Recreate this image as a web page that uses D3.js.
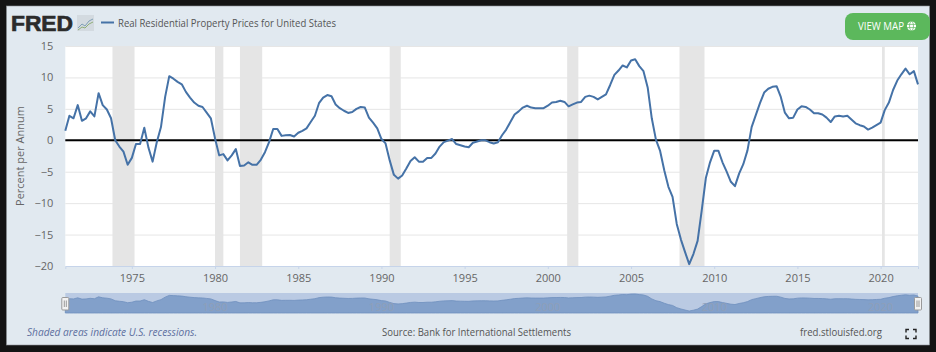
<!DOCTYPE html>
<html>
<head>
<meta charset="utf-8">
<script src="https://cdn.jsdelivr.net/npm/d3@7"></script>
<style>
  html, body { margin: 0; padding: 0; background: #141414; }
  svg { display: block; }
  text { font-family: "Open Sans", sans-serif; }
</style>
</head>
<body>
<div id="chart"></div>
<script>
const seriesName = "Real Residential Property Prices for United States";
const firstYear = 1971;

// percent per annum, one value per quarter from 1971 Q1
const values = [
  1.5, 3.9, 3.5, 5.6,  3.1, 3.5, 4.6, 3.8,  7.5, 5.6, 4.9, 3.5,  0.0, -1.0, -1.8, -3.9,
  -2.8, -0.6, -0.6, 2.0,  -1.2, -3.4, -0.3, 2.1,  6.9, 10.2, 9.8, 9.3,  8.9, 7.7, 6.8, 6.0,
  5.5, 5.3, 4.4, 3.5,  0.3, -2.4, -2.2, -3.2,  -2.4, -1.4, -4.1, -4.0,  -3.5, -3.9, -3.9, -3.1,
  -1.9, -0.3, 1.8, 1.8,  0.7, 0.8, 0.85, 0.6,  1.2, 1.5, 1.9, 2.9,  3.9, 5.9, 6.8, 7.2,
  7.0, 5.7, 5.1, 4.7,  4.35, 4.5, 5.0, 5.3,  5.2, 3.6, 2.8, 1.9,  0.2, -0.5, -3.2, -5.5,
  -6.1, -5.6, -4.5, -3.3,  -2.7, -3.4, -3.4, -2.8,  -2.8, -2.1, -1.0, -0.3,  -0.05, 0.2, -0.6, -0.8,
  -1.0, -1.1, -0.4, -0.2,  0.0, 0.0, -0.3, -0.5,  -0.3, 0.8, 1.7, 2.9,  4.1, 4.6, 5.2, 5.5,
  5.2, 5.1, 5.1, 5.1,  5.5, 6.0, 6.1, 6.3,  6.1, 5.4, 5.7, 6.0,  6.1, 6.9, 7.1, 6.9,
  6.5, 6.9, 7.3, 8.8,  10.4, 11.1, 11.9, 11.6,  12.7, 12.9, 11.8, 11.0,  8.4, 3.5, 0.1, -1.7,
  -4.8, -7.4, -9.0, -13.3,  -15.8, -17.8, -19.7, -18.1,  -16.0, -11.2, -6.0, -3.5,  -1.65, -1.65, -3.5, -5.0,
  -6.6, -7.3, -5.3, -3.8,  -1.6, 2.1, 4.0, 5.9,  7.6, 8.2, 8.5, 8.6,  6.9, 4.4, 3.5, 3.6,
  4.9, 5.4, 5.3, 4.9,  4.3, 4.3, 4.1, 3.6,  2.9, 3.8, 3.9, 3.8,  3.9, 3.3, 2.7, 2.4,
  2.2, 1.7, 2.0, 2.4,  2.8, 4.8, 6.0, 8.0,  9.5, 10.5, 11.4, 10.5,  11.0, 8.9
];

// [start year, start month, end year, end month], month is 0 based
const recessions = [
  [1973, 10, 1975, 2], [1980, 0, 1980, 6], [1981, 6, 1982, 10], [1990, 6, 1991, 2],
  [2001, 2, 2001, 10], [2007, 11, 2009, 5], [2020, 1, 2020, 3]
];

const yTicks = [15, 10, 5, 0, -5, -10, -15, -20];
const xTickYears = [1975, 1980, 1985, 1990, 1995, 2000, 2005, 2010, 2015, 2020];
const navLabelYears = [1980, 1990, 2000, 2010, 2020];

const width = 936, height = 352;
const plot = { left: 65.3, right: 918, top: 46, bottom: 266 };
const nav = { top: 293, bottom: 313 };

const points = values.map((v, i) => ({
  date: new Date(Date.UTC(firstYear, i * 3, 1)),
  value: v
}));

const x = d3.scaleUtc()
  .domain(d3.extent(points, d => d.date))
  .range([plot.left, plot.right]);

const y = d3.scaleLinear().domain([-20, 15]).range([plot.bottom, plot.top]);
// the navigator keeps some room under the lowest point
const yNav = d3.scaleLinear().domain([-23.5, 14.8]).range([nav.bottom, nav.top]);

const svg = d3.select("#chart").append("svg")
  .attr("width", width)
  .attr("height", height);

// panel
svg.append("rect")
  .attr("x", 6.5).attr("y", 6)
  .attr("width", 923).attr("height", 339)
  .attr("fill", "#e1e9f0")
  .attr("stroke", "#8d9196")
  .attr("stroke-width", 0.6);

// plot background
svg.append("rect")
  .attr("x", plot.left).attr("y", plot.top)
  .attr("width", plot.right - plot.left).attr("height", plot.bottom - plot.top)
  .attr("fill", "#fff");

// grid and y labels
const yAxis = d3.axisLeft(y)
  .tickValues(yTicks)
  .tickSize(-(plot.right - plot.left))
  .tickPadding(12);

const yG = svg.append("g")
  .attr("transform", `translate(${plot.left},0)`)
  .call(yAxis);
yG.select(".domain").remove();
yG.selectAll(".tick line").attr("stroke", "#e6e6e6");
yG.selectAll(".tick text")
  .attr("fill", "#666")
  .style("font-size", "11px");

// recession bands
svg.append("g").selectAll("rect")
  .data(recessions)
  .enter().append("rect")
  .attr("x", d => x(new Date(Date.UTC(d[0], d[1], 1))))
  .attr("y", plot.top)
  .attr("width", d => x(new Date(Date.UTC(d[2], d[3], 1))) - x(new Date(Date.UTC(d[0], d[1], 1))))
  .attr("height", plot.bottom - plot.top)
  .attr("fill", "#e5e5e5");

// x axis
const xAxis = d3.axisBottom(x)
  .tickValues(xTickYears.map(yr => new Date(Date.UTC(yr, 0, 1))))
  .tickFormat(d3.utcFormat("%Y"))
  .tickSize(3)
  .tickPadding(5);

const xG = svg.append("g")
  .attr("transform", `translate(0,${plot.bottom})`)
  .call(xAxis);
xG.select(".domain").attr("stroke", "#c6d4ea");
xG.selectAll(".tick line").attr("stroke", "#c6d4ea");
xG.selectAll(".tick text")
  .attr("fill", "#666")
  .style("font-size", "11px");

// zero line
svg.append("line")
  .attr("x1", plot.left).attr("x2", plot.right)
  .attr("y1", y(0)).attr("y2", y(0))
  .attr("stroke", "#000")
  .attr("stroke-width", 2);

// main line
const line = d3.line().x(d => x(d.date)).y(d => y(d.value));

svg.append("path")
  .datum(points)
  .attr("d", line)
  .attr("fill", "none")
  .attr("stroke", "#4572a7")
  .attr("stroke-width", 2)
  .attr("stroke-linejoin", "round");

// y title
svg.append("text")
  .attr("transform", "translate(24,156) rotate(-90)")
  .attr("text-anchor", "middle")
  .attr("fill", "#666")
  .style("font-size", "11px")
  .text("Percent per Annum");

// navigator
svg.append("rect")
  .attr("x", plot.left).attr("y", nav.top)
  .attr("width", plot.right - plot.left).attr("height", nav.bottom - nav.top)
  .attr("fill", "#bacae3");

const navArea = d3.area()
  .x(d => x(d.date))
  .y0(nav.bottom)
  .y1(d => yNav(d.value));

svg.append("path")
  .datum(points)
  .attr("d", navArea)
  .attr("fill", "#82a0ca")
  .attr("stroke", "#6f8fbe")
  .attr("stroke-width", 0.8);

svg.append("g").selectAll("text")
  .data(navLabelYears)
  .enter().append("text")
  .attr("x", d => x(new Date(Date.UTC(d, 0, 1))))
  .attr("y", 311)
  .attr("text-anchor", "middle")
  .attr("fill", "#8f9fb8")
  .style("font-size", "11px")
  .text(d => d);

// navigator handles
const handles = svg.append("g").selectAll("g")
  .data([plot.left, plot.right])
  .enter().append("g")
  .attr("transform", d => `translate(${d},304)`);
handles.append("rect")
  .attr("x", -3.5).attr("y", -6.5)
  .attr("width", 7).attr("height", 12.5)
  .attr("rx", 1)
  .attr("fill", "#f2f2f2")
  .attr("stroke", "#999");
handles.selectAll("line")
  .data([-1, 1])
  .enter().append("line")
  .attr("x1", d => d).attr("x2", d => d)
  .attr("y1", -3.5).attr("y2", 3)
  .attr("stroke", "#999");

// logo
svg.append("text")
  .attr("x", 11).attr("y", 31)
  .attr("textLength", 62)
  .attr("lengthAdjust", "spacingAndGlyphs")
  .attr("fill", "#2b2b2b")
  .attr("stroke", "#2b2b2b")
  .attr("stroke-width", 0.7)
  .style("font-family", "'Liberation Sans', sans-serif")
  .style("font-weight", 700)
  .style("font-size", "22.5px")
  .text("FRED");

const logo = svg.append("g").attr("transform", "translate(77,15)");
logo.append("rect").attr("width", 17).attr("height", 16).attr("fill", "#d3dae0");
logo.append("path")
  .attr("d", "M1,13 L5,9 L8,11 L12,6 L16,4")
  .attr("fill", "none").attr("stroke", "#7f9fb5").attr("stroke-width", 1);
logo.append("path")
  .attr("d", "M1,15 L5,12 L8,13 L12,9 L16,7")
  .attr("fill", "none").attr("stroke", "#8fae78").attr("stroke-width", 1);

// legend
svg.append("line")
  .attr("x1", 101).attr("x2", 114)
  .attr("y1", 22.5).attr("y2", 22.5)
  .attr("stroke", "#4572a7")
  .attr("stroke-width", 2);
svg.append("text")
  .attr("x", 118).attr("y", 26.5)
  .attr("fill", "#555")
  .style("font-size", "11px")
  .attr("textLength", 218)
  .attr("lengthAdjust", "spacingAndGlyphs")
  .text(seriesName);

// view map button
svg.append("rect")
  .attr("x", 845).attr("y", 13)
  .attr("width", 85).attr("height", 27)
  .attr("rx", 8)
  .attr("fill", "#5cb85c");
svg.append("text")
  .attr("x", 858).attr("y", 30)
  .attr("fill", "#fff")
  .style("font-size", "11px")
  .attr("textLength", 46)
  .attr("lengthAdjust", "spacingAndGlyphs")
  .text("VIEW MAP");
const globe = svg.append("g").attr("transform", "translate(911.5,26)");
globe.append("circle").attr("r", 4.6).attr("fill", "#fff");
globe.append("ellipse").attr("rx", 2).attr("ry", 4.6)
  .attr("fill", "none").attr("stroke", "#5cb85c").attr("stroke-width", 0.7);
[-1.6, 1.6].forEach(dy => {
  globe.append("line")
    .attr("x1", -4.6).attr("x2", 4.6)
    .attr("y1", dy).attr("y2", dy)
    .attr("stroke", "#5cb85c").attr("stroke-width", 0.7);
});

// footer
svg.append("text")
  .attr("x", 27).attr("y", 336)
  .attr("fill", "#5d6f9f")
  .style("font-size", "10.5px")
  .style("font-style", "italic")
  .attr("textLength", 170)
  .attr("lengthAdjust", "spacingAndGlyphs")
  .text("Shaded areas indicate U.S. recessions.");
svg.append("text")
  .attr("x", 382).attr("y", 336)
  .attr("fill", "#555")
  .style("font-size", "10.5px")
  .attr("textLength", 189)
  .attr("lengthAdjust", "spacingAndGlyphs")
  .text("Source: Bank for International Settlements");
svg.append("text")
  .attr("x", 800).attr("y", 336)
  .attr("fill", "#555")
  .style("font-size", "10.5px")
  .attr("textLength", 82)
  .attr("lengthAdjust", "spacingAndGlyphs")
  .text("fred.stlouisfed.org");

// fullscreen icon
svg.append("path")
  .attr("d", "M906,332.5 V329.5 H909 M913,329.5 H916 V332.5 M916,335.5 V338.5 H913 M909,338.5 H906 V335.5")
  .attr("fill", "none")
  .attr("stroke", "#222")
  .attr("stroke-width", 1.4);
</script>
</body>
</html>
